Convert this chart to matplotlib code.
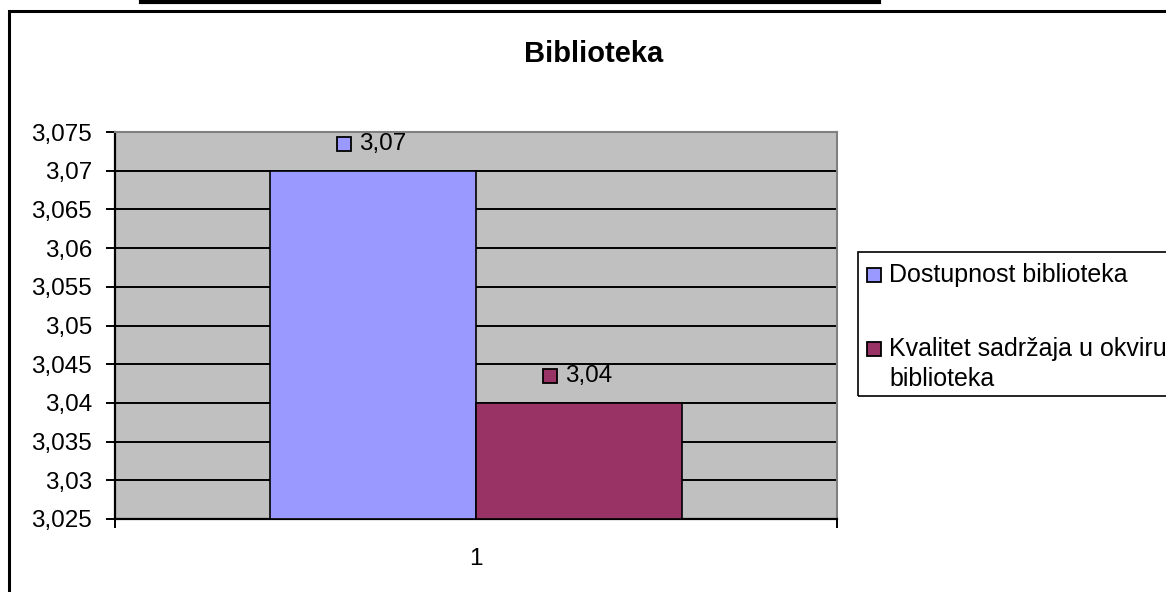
import numpy as np
import matplotlib
matplotlib.use('Agg')
import matplotlib.pyplot as plt
from matplotlib.patches import Rectangle
from matplotlib.ticker import FuncFormatter, MultipleLocator
from matplotlib.transforms import offset_copy

plt.rcParams['font.family'] = ['Liberation Sans', 'DejaVu Sans']

# data
category = ['1']
series_names = ['Dostupnost biblioteka', 'Kvalitet sadržaja u okviru\nbiblioteka']
values = [3.07, 3.04]
colors = ['#9999FF', '#993366']
ymin, ymax = 3.025, 3.075

W, H = 1166, 592
fig = plt.figure(figsize=(W / 100, H / 100), dpi=100)
fig.patch.set_facecolor('white')

def fx(px):
    return px / W

def fy(py):
    return 1 - py / H

ax = fig.add_axes([fx(115), fy(519), fx(837) - fx(115), fy(132) - fy(519)])
ax.set_facecolor('#C0C0C0')

bw = 206 / 722
offs = [-bw / 2, bw / 2]
for v, c, o in zip(values, colors, offs):
    ax.bar(1 + o, v - ymin, width=bw, bottom=ymin, color=c, edgecolor='black', linewidth=1.2, zorder=3)

ax.set_xlim(0.5, 1.5)
ax.set_ylim(ymin, ymax)
ax.yaxis.set_major_locator(MultipleLocator(0.005))
ax.yaxis.set_major_formatter(FuncFormatter(lambda v, p: ('%g' % round(v, 3)).replace('.', ',')))
ax.grid(axis='y', color='black', linewidth=1.4, zorder=1)
ax.set_axisbelow(True)

ax.set_xticks([1])
ax.set_xticklabels(category)
ax.set_xticks([0.5, 1.5], minor=True)
ax.tick_params(axis='x', which='major', length=0, pad=21, labelsize=17.5)
ax.tick_params(axis='x', which='minor', length=6.5, width=1.4, direction='out')
ax.tick_params(axis='y', length=6.5, width=1.4, direction='out', pad=10, labelsize=17.5)

for s in ['top', 'right']:
    ax.spines[s].set_color('#808080')
    ax.spines[s].set_linewidth(1.5)
for s in ['left', 'bottom']:
    ax.spines[s].set_color('black')
    ax.spines[s].set_linewidth(1.6)

# data labels with small square keys
for v, c, o in zip(values, colors, offs):
    tr = offset_copy(ax.transData, fig=fig, x=-29, y=26.5, units='dots')
    ax.plot([1 + o], [v], 's', transform=tr, markersize=10, markerfacecolor=c,
            markeredgecolor='black', markeredgewidth=1.3, clip_on=False, zorder=5)
    ax.annotate(('%g' % v).replace('.', ','), xy=(1 + o, v), xytext=(-14 * 0.72, 26.5 * 0.72),
                textcoords='offset points', ha='left', va='center', fontsize=17.5, zorder=5)

fig.text(fx(594), fy(62), 'Biblioteka', ha='center', va='baseline', fontsize=21, fontweight='bold')

# outer chart border and line above it
fig.patches.append(Rectangle((fx(9), -0.2), 1.2, fy(11) + 0.2, transform=fig.transFigure,
                             fill=False, edgecolor='black', linewidth=2.2))
fig.lines.append(plt.Line2D([fx(141), fx(879)], [fy(1.5), fy(1.5)], transform=fig.transFigure,
                            color='black', linewidth=3))

# legend
fig.patches.append(Rectangle((fx(858), fy(396)), 0.5, fy(252) - fy(396), transform=fig.transFigure,
                             fill=False, edgecolor='black', linewidth=1.2))
leg_y = [275, 349]
for name, c, y in zip(series_names, colors, leg_y):
    fig.patches.append(Rectangle((fx(867), fy(y + 7)), fx(14), 14 / H, transform=fig.transFigure,
                                 facecolor=c, edgecolor='black', linewidth=1.3))
    for i, line in enumerate(name.split('\n')):
        fig.text(fx(889), fy(y + i * 30), line, ha='left', va='center', fontsize=18)

fig.savefig('out.png', dpi=100)
